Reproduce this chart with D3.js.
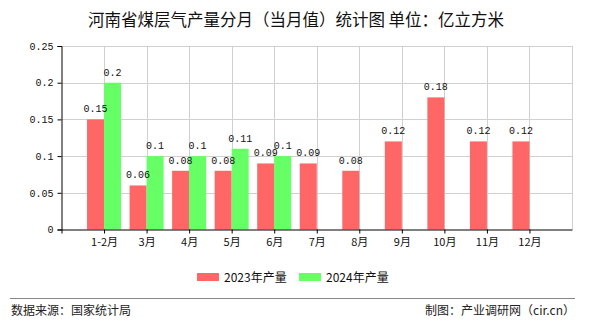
<!DOCTYPE html>
<html><head><meta charset="utf-8">
<script src="https://cdn.jsdelivr.net/npm/d3@7/dist/d3.min.js"></script>
<style>body{margin:0;background:#fff}svg{display:block}</style>
</head><body><svg id="c" width="590" height="330"></svg>
<script>
const categories = ["1-2月","3月","4月","5月","6月","7月","8月","9月","10月","11月","12月"];
const values2023 = [0.15,0.06,0.08,0.08,0.09,0.09,0.08,0.12,0.18,0.12,0.12];
const values2024 = [0.2,0.1,0.1,0.11,0.1,null,null,null,null,null,null];
const yTicks = [0,0.05,0.1,0.15,0.2,0.25];
const yTickLabels = ["0","0.05","0.1","0.15","0.2","0.25"];
const seriesNames = ["2023年产量","2024年产量"];
const colors = ["#ff6666","#66ff66"];

const svg = d3.select("#c");
const pLeft = 61.5, pRight = 572, pTop = 46, pBottom = 229.5;
const slots = ["__s", ...categories, "__e"];
const x = d3.scalePoint().domain(slots).range([pLeft, pRight]);
const y = d3.scaleLinear().domain([0,0.25]).range([pBottom, pTop]);
const bw = 17;
const mono = "'Liberation Mono','DejaVu Sans Mono',monospace";
const cjk = "'Noto Sans CJK SC','Noto Sans',sans-serif";

svg.append("text").attr("x",296).attr("y",26).attr("text-anchor","middle")
  .attr("font-family",cjk).attr("font-size",16.5).attr("fill","#111")
  .text("河南省煤层气产量分月（当月值）统计图 单位：亿立方米");

// grid
svg.append("g").selectAll("line").data(yTicks.slice(1)).join("line")
  .attr("x1",pLeft).attr("x2",pRight).attr("y1",d=>Math.round(y(d))+0.5).attr("y2",d=>Math.round(y(d))+0.5)
  .attr("stroke","#d0d0d0");
svg.append("g").selectAll("line").data(slots.slice(1)).join("line")
  .attr("x1",d=>Math.round(x(d))+0.5).attr("x2",d=>Math.round(x(d))+0.5).attr("y1",pTop).attr("y2",pBottom)
  .attr("stroke","#d0d0d0");

// bars
const series = [values2023, values2024];
const barG = svg.append("g"), labG = svg.append("g");
series.forEach((vals, si) => {
  const data = categories.map((c,i)=>({c, v: vals[i]})).filter(d=>d.v!=null);
  barG.append("g").selectAll("rect").data(data).join("rect")
    .attr("x", d=> si===0 ? x(d.c)-bw : x(d.c))
    .attr("width", bw)
    .attr("y", d=>y(d.v)).attr("height", d=>y(0)-y(d.v))
    .attr("fill", colors[si]);
  labG.append("g").selectAll("text").data(data).join("text")
    .attr("x", d=> (si===0 ? x(d.c)-bw/2 : x(d.c)+bw/2))
    .attr("y", d=>y(d.v)-7)
    .attr("text-anchor","middle").attr("font-family",mono).attr("font-size",10).attr("fill","#111")
    .text(d=>String(d.v));
});

// axes
const yAxis = d3.axisLeft(y).tickValues(yTicks).tickSize(4).tickFormat((d,i)=>yTickLabels[i]);
const ya = svg.append("g").attr("transform",`translate(${pLeft},0)`).call(yAxis);
ya.select(".domain").attr("stroke","#000");
ya.selectAll(".tick line").attr("stroke","#000");
ya.selectAll("text").attr("font-family",mono).attr("font-size",10).attr("fill","#111").attr("dx",-1);

const xAxis = d3.axisBottom(x).tickValues(slots.slice(0,slots.length-1)).tickSize(4).tickSizeOuter(0)
  .tickFormat(d=> categories.includes(d) ? d : "");
const xa = svg.append("g").attr("transform",`translate(0,${pBottom})`).call(xAxis);
xa.select(".domain").attr("stroke","#000");
xa.selectAll(".tick line").attr("stroke","#000");
xa.selectAll("text").attr("font-family",cjk).attr("font-size",11).attr("fill","#111").attr("dy","0.9em");

// legend
const lg = svg.append("g");
[[197,224],[299,326]].forEach((p,i)=>{
  lg.append("rect").attr("x",p[0]).attr("y",273).attr("width",22).attr("height",8).attr("fill",colors[i]);
  lg.append("text").attr("x",p[1]).attr("y",281.5).attr("font-family",cjk).attr("font-size",12).attr("fill","#111").text(seriesNames[i]);
});

// footer
svg.append("line").attr("x1",10).attr("x2",575).attr("y1",298.5).attr("y2",298.5).attr("stroke","#888");
svg.append("text").attr("x",11).attr("y",315).attr("font-family",cjk).attr("font-size",12).attr("fill","#222").text("数据来源：国家统计局");
svg.append("text").attr("x",575).attr("y",315).attr("text-anchor","end").attr("font-family",cjk).attr("font-size",12).attr("fill","#222").text("制图：产业调研网（cir.cn）");
</script></body></html>
